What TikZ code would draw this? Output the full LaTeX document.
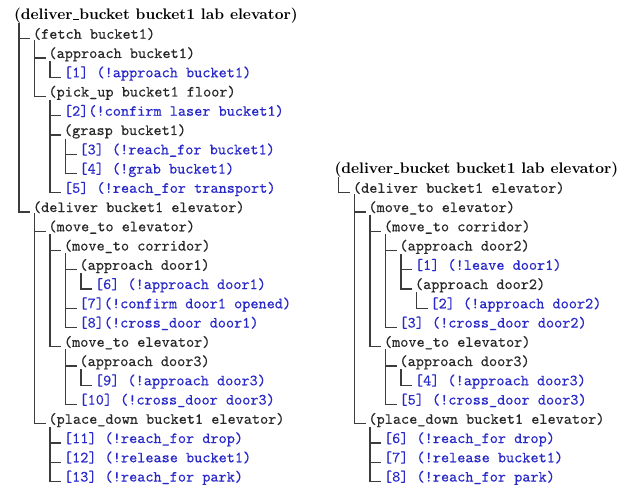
\documentclass[tikz,border=0pt]{standalone}
\usepackage{fontspec}
\newfontfamily\plantt{lmmono10-regular.otf}[FakeBold=0.35]
\newfontfamily\rootbf{lmroman10-bold.otf}
\definecolor{leafblue}{RGB}{40,40,200}
\definecolor{taskgray}{RGB}{40,40,40}
\definecolor{linegray}{RGB}{60,60,60}
% low rule used as the underscore of the bold root line
\newcommand\bus{\kern.04em\rule[-0.02em]{.36em}{.07em}\kern.04em}
% \tn{name}{x offset}{level}{row}{style}{text}
\newcommand\tn[6]{\node[#5] (#1) at ({#2+17.5+15.5*#3},{19.5+19.25*#4}) {#6};}
% \br[shift]{parent}{child}: elbow from under the parent to the child
\newcommand\br[3][1.5pt]{\draw[conn] ([xshift=#1]#2.south west) |- ([xshift=-3pt]#3.base west);}
\begin{document}
\begin{tikzpicture}[x=1pt,y=-1pt,
  every node/.style={inner sep=0pt,outer sep=0pt,anchor=base west},
  roottext/.style={font=\fontsize{15.3}{18}\selectfont\rootbf,text=black},
  tasktext/.style={font=\fontsize{15.5}{18}\selectfont\plantt,text=taskgray},
  leaftext/.style={font=\fontsize{15.5}{18}\selectfont\plantt,text=leafblue},
  conn/.style={draw=linegray,line width=1.3pt}]
\useasboundingbox (0,0) rectangle (637,492);

% ---------------- left plan ----------------
\node[roottext] (L0) at (14,19.5) {(deliver\bus bucket bucket1 lab elevator)};
\tn{L1}{0}{1}{1}{tasktext}{(fetch bucket1)}
\tn{L2}{0}{2}{2}{tasktext}{(approach bucket1)}
\tn{L3}{0}{3}{3}{leaftext}{[1] (!approach bucket1)}
\tn{L4}{0}{2}{4}{tasktext}{(pick\_up bucket1 floor)}
\tn{L5}{0}{3}{5}{leaftext}{[2](!confirm laser bucket1)}
\tn{L6}{0}{3}{6}{tasktext}{(grasp bucket1)}
\tn{L7}{0}{4}{7}{leaftext}{[3] (!reach\_for bucket1)}
\tn{L8}{0}{4}{8}{leaftext}{[4] (!grab bucket1)}
\tn{L9}{0}{3}{9}{leaftext}{[5] (!reach\_for transport)}
\tn{L10}{0}{1}{10}{tasktext}{(deliver bucket1 elevator)}
\tn{L11}{0}{2}{11}{tasktext}{(move\_to elevator)}
\tn{L12}{0}{3}{12}{tasktext}{(move\_to corridor)}
\tn{L13}{0}{4}{13}{tasktext}{(approach door1)}
\tn{L14}{0}{5}{14}{leaftext}{[6] (!approach door1)}
\tn{L15}{0}{4}{15}{leaftext}{[7](!confirm door1 opened)}
\tn{L16}{0}{4}{16}{leaftext}{[8](!cross\_door door1)}
\tn{L17}{0}{3}{17}{tasktext}{(move\_to elevator)}
\tn{L18}{0}{4}{18}{tasktext}{(approach door3)}
\tn{L19}{0}{5}{19}{leaftext}{[9] (!approach door3)}
\tn{L20}{0}{4}{20}{leaftext}{[10] (!cross\_door door3)}
\tn{L21}{0}{2}{21}{tasktext}{(place\_down bucket1 elevator)}
\tn{L22}{0}{3}{22}{leaftext}{[11] (!reach\_for drop)}
\tn{L23}{0}{3}{23}{leaftext}{[12] (!release bucket1)}
\tn{L24}{0}{3}{24}{leaftext}{[13] (!reach\_for park)}

\br[5pt]{L0}{L1} \br[5pt]{L0}{L10}
\br{L1}{L2} \br{L1}{L4}
\br{L2}{L3}
\br{L4}{L5} \br{L4}{L6} \br{L4}{L9}
\br{L6}{L7} \br{L6}{L8}
\br{L10}{L11} \br{L10}{L21}
\br{L11}{L12} \br{L11}{L17}
\br{L12}{L13} \br{L12}{L15} \br{L12}{L16}
\br{L13}{L14}
\br{L17}{L18} \br{L17}{L20}
\br{L18}{L19}
\br{L21}{L22} \br{L21}{L23} \br{L21}{L24}

% ---------------- right plan ----------------
\node[roottext] (R0) at (334.5,173.5) {(deliver\bus bucket bucket1 lab elevator)};
\tn{R1}{320}{1}{9}{tasktext}{(deliver bucket1 elevator)}
\tn{R2}{320}{2}{10}{tasktext}{(move\_to elevator)}
\tn{R3}{320}{3}{11}{tasktext}{(move\_to corridor)}
\tn{R4}{320}{4}{12}{tasktext}{(approach door2)}
\tn{R5}{320}{5}{13}{leaftext}{[1] (!leave door1)}
\tn{R6}{320}{5}{14}{tasktext}{(approach door2)}
\tn{R7}{320}{6}{15}{leaftext}{[2] (!approach door2)}
\tn{R8}{320}{4}{16}{leaftext}{[3] (!cross\_door door2)}
\tn{R9}{320}{3}{17}{tasktext}{(move\_to elevator)}
\tn{R10}{320}{4}{18}{tasktext}{(approach door3)}
\tn{R11}{320}{5}{19}{leaftext}{[4] (!approach door3)}
\tn{R12}{320}{4}{20}{leaftext}{[5] (!cross\_door door3)}
\tn{R13}{320}{2}{21}{tasktext}{(place\_down bucket1 elevator)}
\tn{R14}{320}{3}{22}{leaftext}{[6] (!reach\_for drop)}
\tn{R15}{320}{3}{23}{leaftext}{[7] (!release bucket1)}
\tn{R16}{320}{3}{24}{leaftext}{[8] (!reach\_for park)}

\br[4pt]{R0}{R1}
\br{R1}{R2} \br{R1}{R13}
\br{R2}{R3} \br{R2}{R9}
\br{R3}{R4} \br{R3}{R8}
\br{R4}{R5} \br{R4}{R6}
\br{R6}{R7}
\br{R9}{R10} \br{R9}{R12}
\br{R10}{R11}
\br{R13}{R14} \br{R13}{R15} \br{R13}{R16}
\end{tikzpicture}
\end{document}
